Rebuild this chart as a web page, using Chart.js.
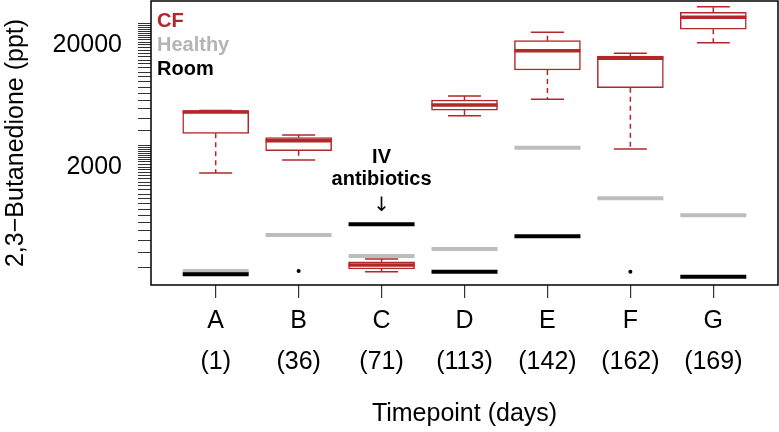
<!DOCTYPE html>
<html>
<head>
<meta charset="utf-8">
<script src="https://cdn.jsdelivr.net/npm/chart.js@4.4.1/dist/chart.umd.min.js"></script>
<style>
  html, body { margin: 0; padding: 0; background: #fff; }
  #wrap { width: 779px; height: 432px; }
</style>
</head>
<body>
<div id="wrap"><canvas id="grafico"></canvas></div>
<script>
// categorias e dias
const timepoints = ['A', 'B', 'C', 'D', 'E', 'F', 'G'];
const days = [1, 36, 71, 113, 142, 162, 169];

// CF (boxplot) em ppt
const cfLowWhisker = [1790, 2280, 277, 5270, 7180, 2810, 20900];
const cfQ1 = [3780, 2720, 292, 5860, 12470, 8930, 26900];
const cfMedian = [5650, 3290, 315, 6440, 17960, 15560, 33700];
const cfQ3 = [5800, 3480, 335, 7080, 21700, 16250, 37100];
const cfHighWhisker = [5800, 3660, 352, 7640, 25400, 17100, 41200];

// controles
const healthy = [281, 555, 373, 426, 2880, 1108, 804];
const room = [265, null, 678, 277, 541, null, 252];
const roomDots = [null, 281, null, null, null, 277, null];

// eixo y
const yTickLabels = [2000, 20000];
const yMinorTicks = [300, 400, 500, 600, 700, 800, 900, 1000, 1100, 1200, 1300, 1400, 1500,
    1600, 1700, 1800, 1900, 2000, 2100, 2200, 2300, 2400, 2500, 2600, 2700, 2800, 2900,
    3000, 4000, 5000, 6000, 7000, 8000, 9000, 10000, 11000, 12000, 13000, 14000, 15000,
    16000, 17000, 18000, 19000, 20000, 21000, 22000, 23000, 24000, 25000, 26000, 27000,
    28000, 29000, 30000];

const RED = '#b3262a';
const GRAY = '#bdbdbd';
const FONT = "'Liberation Sans', Arial, Helvetica, sans-serif";

const xs = timepoints.map((t, i) => i + 1);
const pts = arr => arr.map((v, i) => ({ x: i + 1, y: v })).filter(p => p.y !== null);

const whiskers = [];
xs.forEach((x, i) => {
    whiskers.push({ x: x, y: cfQ3[i] }, { x: x, y: cfHighWhisker[i] }, { x: x, y: null });
    whiskers.push({ x: x, y: cfQ1[i] }, { x: x, y: cfLowWhisker[i] }, { x: x, y: null });
});
const caps = [];
xs.forEach((x, i) => {
    caps.push({ x: x, y: cfHighWhisker[i] }, { x: x, y: cfLowWhisker[i] });
});

function semPadding(scale) {
    scale.paddingLeft = 0;
    scale.paddingRight = 0;
    scale.paddingTop = 0;
    scale.paddingBottom = 0;
}

// moldura + legenda + anotação
const extras = {
    id: 'extras',
    afterDraw(chart) {
        const { ctx, chartArea: a, scales } = chart;
        ctx.save();
        ctx.strokeStyle = '#000';
        ctx.lineWidth = 1.5;
        ctx.strokeRect(a.left, a.top, a.right - a.left, a.bottom - a.top);

        ctx.font = 'bold 20px ' + FONT;
        ctx.textAlign = 'left';
        ctx.textBaseline = 'middle';
        [['CF', RED], ['Healthy', '#b5b5b5'], ['Room', '#000']].forEach((l, i) => {
            ctx.fillStyle = l[1];
            ctx.fillText(l[0], a.left + 6, a.top + 20 + i * 24);
        });

        const cx = scales.x.getPixelForValue(3);
        const cy = scales.y.getPixelForValue(room[2]);
        ctx.fillStyle = '#000';
        ctx.textAlign = 'center';
        ctx.fillText('IV', cx, cy - 67);
        ctx.fillText('antibiotics', cx, cy - 45);
        ctx.font = '20px DejaVu Sans';
        ctx.fillText('\u2193', cx, cy - 19);
        ctx.restore();
    }
};

const ctx = document.getElementById('grafico').getContext('2d');
new Chart(ctx, {
    type: 'bar',
    data: {
        datasets: [
            {
                type: 'bar',
                data: xs.map((x, i) => ({ x: x, y: [cfQ1[i], cfQ3[i]] })),
                backgroundColor: '#fff',
                borderColor: RED,
                borderWidth: 1.5,
                borderSkipped: false,
                barThickness: 66,
                order: 6
            },
            {
                type: 'line',
                data: whiskers,
                borderColor: RED,
                borderWidth: 1.5,
                borderDash: [5, 4],
                pointRadius: 0,
                spanGaps: false,
                fill: false,
                order: 5
            },
            {
                type: 'scatter',
                data: caps,
                pointStyle: 'line',
                pointRadius: 16.5,
                pointBorderWidth: 1.5,
                pointBorderColor: RED,
                order: 4
            },
            {
                type: 'scatter',
                data: pts(cfMedian),
                pointStyle: 'line',
                pointRadius: 33,
                pointBorderWidth: 3.5,
                pointBorderColor: RED,
                order: 3
            },
            {
                type: 'scatter',
                data: pts(healthy),
                pointStyle: 'line',
                pointRadius: 33,
                pointBorderWidth: 4,
                pointBorderColor: GRAY,
                order: 2
            },
            {
                type: 'scatter',
                data: pts(room),
                pointStyle: 'line',
                pointRadius: 33,
                pointBorderWidth: 4,
                pointBorderColor: '#000',
                order: 1
            },
            {
                type: 'scatter',
                data: pts(roomDots),
                pointStyle: 'circle',
                pointRadius: 2,
                pointBackgroundColor: '#000',
                pointBorderColor: '#000',
                pointBorderWidth: 0,
                order: 0
            }
        ]
    },
    options: {
        responsive: true,
        maintainAspectRatio: false,
        animation: false,
        devicePixelRatio: 1,
        layout: { autoPadding: false, padding: { top: 1, right: 1, left: 0, bottom: 0 } },
        plugins: {
            legend: { display: false },
            tooltip: { enabled: false }
        },
        scales: {
            x: {
                type: 'linear',
                min: 0.22,
                max: 7.78,
                offset: false,
                afterFit: function (scale) { scale.height = 147; semPadding(scale); },
                afterBuildTicks: function (scale) {
                    scale.ticks = xs.map(v => ({ value: v }));
                },
                grid: { offset: false, drawOnChartArea: false, tickLength: 13, color: '#333', lineWidth: 1.2 },
                border: { display: false },
                ticks: {
                    autoSkip: false,
                    maxRotation: 0,
                    padding: 3,
                    color: '#000',
                    font: { family: FONT, size: 25, lineHeight: 1.64 },
                    callback: function (value, index) {
                        return [timepoints[index], '(' + days[index] + ')'];
                    }
                },
                title: {
                    display: true,
                    text: 'Timepoint (days)',
                    color: '#000',
                    font: { family: FONT, size: 25, lineHeight: 1.2 },
                    padding: { top: 0, bottom: 3 }
                }
            },
            y: {
                type: 'logarithmic',
                min: 216,
                max: 45870,
                afterFit: function (scale) { scale.width = 151; semPadding(scale); },
                afterBuildTicks: function (scale) {
                    scale.ticks = yMinorTicks.map(v => ({ value: v }));
                },
                grid: { drawOnChartArea: false, tickLength: 13, color: '#333', lineWidth: 1 },
                border: { display: false },
                ticks: {
                    autoSkip: false,
                    padding: 16,
                    color: '#000',
                    font: { family: FONT, size: 25 },
                    callback: function (value) {
                        return yTickLabels.includes(value) ? String(value) : '';
                    }
                },
                title: {
                    display: true,
                    text: '2,3\u2212Butanedione (ppt)',
                    color: '#000',
                    font: { family: FONT, size: 25, lineHeight: 1.2 },
                    padding: { top: 1, bottom: 0 }
                }
            }
        }
    },
    plugins: [extras]
});
</script>
</body>
</html>
